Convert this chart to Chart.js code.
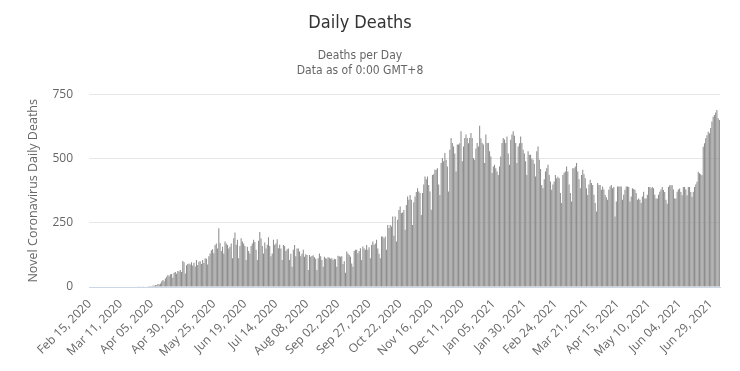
<!DOCTYPE html>
<html>
<head>
<meta charset="utf-8">
<title>Daily Deaths</title>
<script src="https://cdn.jsdelivr.net/npm/chart.js@4.4.1/dist/chart.umd.min.js"></script>
<style>
  body { margin: 0; background: #ffffff; }
  #wrap { width: 740px; height: 371px; }
</style>
</head>
<body>
<div id="wrap"><canvas id="deathsChart"></canvas></div>
<script>
// Daily deaths, one array per month
const feb2020 = [0,0,0,0,0,0,0,0,0,0,0,0,0,0,0];
const mar2020 = [0,0,0,0,0,0,0,0,0,0,0,0,0,0,0,0,0,0,0,0,0,0,0,0,1,0,1,0,1,2,2];
const apr2020 = [2,3,1,4,3,6,5,8,7,12,10,14,21,27,22,33,40,47,42,50,51,36,56,58,52,62,60,66,58,101];
const may2020 = [96,53,85,90,92,88,96,84,95,80,105,86,98,100,90,105,94,112,110,88,120,131,143,147,132,164,170,150,229,172,140];
const jun2020 = [157,131,177,170,164,150,157,170,112,190,212,165,184,112,160,190,177,170,160,105,157,140,131,160,170,184,175,145,105,180];
const jul2020 = [214,189,160,131,173,150,165,194,160,120,131,184,165,170,186,151,165,150,105,164,160,140,147,150,105,130,79,145,164,120,150];
const aug2020 = [150,138,120,130,145,118,128,125,66,125,118,121,124,116,110,66,112,131,120,105,79,118,112,110,116,114,110,112,105,110,108];
const sep2020 = [79,122,120,118,120,90,100,56,138,131,125,118,92,79,140,145,145,132,140,151,105,158,150,145,164,145,155,112,164,177];
const oct2020 = [165,170,184,150,130,112,197,197,190,197,145,242,230,242,236,275,200,275,177,262,300,314,288,290,300,223,320,353,340,359,340];
const nov2020 = [242,330,353,370,385,372,366,281,366,400,431,420,431,398,372,301,437,440,457,457,463,400,359,483,503,490,522,496,470,372];
const dec2020 = [535,581,561,548,520,450,555,555,560,607,490,548,581,594,581,560,581,600,581,503,496,540,561,548,629,580,561,555,483,594,561];
const jan2021 = [561,529,509,444,470,477,463,450,437,470,509,561,581,575,561,587,520,477,574,594,607,590,561,483,548,560,587,561,535,520,490];
const feb2021 = [437,529,516,516,500,496,480,431,529,548,496,460,398,385,420,450,463,477,437,411,379,400,411,437,424,430,424,366];
const mar2021 = [327,437,445,450,470,450,400,366,333,463,463,470,483,450,420,385,437,457,440,424,385,359,400,418,405,398,360,327,294,405,398];
const apr2021 = [398,379,392,380,359,350,340,379,392,398,385,390,275,333,392,392,392,392,340,360,379,392,392,390,333,353,385,382,379,366];
const may2021 = [340,345,340,327,353,371,345,345,360,390,390,385,390,385,360,345,345,360,371,380,390,378,370,340,325,390,397,397,397,380,345];
const jun2021 = [345,371,380,384,370,358,390,390,380,358,390,390,370,352,371,390,400,410,449,443,440,436,547,560,580,592,605,599,620,645];
const jul2021 = [664,670,680,690,658,651];

const deaths = [].concat(feb2020, mar2020, apr2020, may2020, jun2020, jul2020, aug2020,
  sep2020, oct2020, nov2020, dec2020, jan2021, feb2021, mar2021, apr2021, may2021, jun2021, jul2021);

// categories: one per day starting Feb 15, 2020
const monthNames = ['Jan','Feb','Mar','Apr','May','Jun','Jul','Aug','Sep','Oct','Nov','Dec'];
const firstDay = Date.UTC(2020, 1, 15);
const days = deaths.map((v, i) => {
  const d = new Date(firstDay + i * 86400000);
  return monthNames[d.getUTCMonth()] + ' ' + String(d.getUTCDate()).padStart(2, '0') + ', ' + d.getUTCFullYear();
});
const labelEvery = 25;
const yTicks = [0, 250, 500, 750];

const axisFont = { family: '"Open Sans", "Liberation Sans", sans-serif', size: 12 };
const headFont = '"Liberation Sans Narrow", "DejaVu Sans Condensed", "Liberation Sans", sans-serif';

const ctx = document.getElementById('deathsChart').getContext('2d');
new Chart(ctx, {
  type: 'bar',
  data: {
    labels: days,
    datasets: [{
      data: deaths,
      backgroundColor: '#8e8e8e',
      borderWidth: 0,
      barPercentage: 0.85,
      categoryPercentage: 1
    }]
  },
  options: {
    responsive: true,
    maintainAspectRatio: false,
    animation: false,
    layout: { padding: { left: 0, right: 20, top: 0, bottom: 0 } },
    plugins: {
      legend: { display: false },
      tooltip: { enabled: false },
      title: {
        display: true,
        text: 'Daily Deaths',
        color: '#333333',
        font: { family: headFont, size: 18, weight: 'normal' },
        padding: { top: 13, bottom: 6 }
      },
      subtitle: {
        display: true,
        text: ['Deaths per Day', 'Data as of 0:00 GMT+8'],
        color: '#666666',
        font: { family: headFont, size: 12, lineHeight: 1.25 },
        padding: { top: 8, bottom: 16 }
      }
    },
    scales: {
      x: {
        grid: { display: false },
        border: { color: '#ccd6eb', width: 1 },
        ticks: {
          autoSkip: false,
          minRotation: 45,
          maxRotation: 45,
          color: '#666666',
          font: axisFont,
          padding: 2,
          callback: function (value, index) {
            return index % labelEvery === 0 ? days[index] : null;
          }
        },
        afterFit: function (scale) { scale.height = 84; }
      },
      y: {
        min: 0,
        max: 750,
        afterBuildTicks: function (scale) {
          scale.ticks = yTicks.map(v => ({ value: v }));
        },
        grid: { color: '#e6e6e6', drawTicks: false },
        border: { display: false },
        ticks: { color: '#666666', font: axisFont, padding: 16 },
        title: {
          display: true,
          text: 'Novel Coronavirus Daily Deaths',
          color: '#666666',
          font: { family: axisFont.family, size: 12.5 },
          padding: { top: 26, bottom: 0 }
        },
        afterFit: function (scale) { scale.width = 89; }
      }
    }
  }
});
</script>
</body>
</html>
